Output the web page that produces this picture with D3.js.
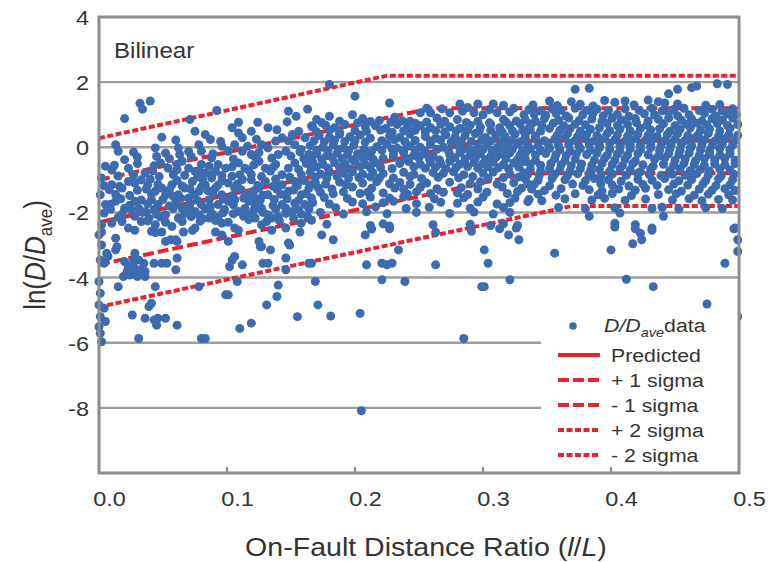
<!DOCTYPE html>
<html><head><meta charset="utf-8">
<script src="https://cdn.jsdelivr.net/npm/d3@7/dist/d3.min.js"></script>
<style>
body{margin:0;background:#fff;}
text{font-family:"Liberation Sans",Arial,Helvetica,sans-serif;fill:#333;}
</style>
</head><body>
<svg id="chart" width="780" height="562"></svg>
<script>
// ---------- data ----------
const xTicks = [0.0, 0.1, 0.2, 0.3, 0.4, 0.5];
const yTicks = [4, 2, 0, -2, -4, -6, -8];
const gridValues = [2, 0, -2, -4, -6, -8];
const panelLabel = "Bilinear";

const lineLabels = ["Predicted", "+ 1 sigma", "- 1 sigma", "+ 2 sigma", "- 2 sigma"];
const lineStartY = [-2.3, -1.0, -3.6, 0.28, -4.9];
const lineBreakX = [0.30, 0.26, 0.335, 0.225, 0.37];
const lineEndY   = [0.2, 1.2, -0.8, 2.2, -1.8];

const pointsNear = [
[0.032,1.35],[0.034,1.17],[0.040,1.42],[0.020,0.88],[0.092,1.13],[0.071,0.85],[0.148,1.11],[0.163,1.17],[0.109,0.77],[0.124,0.77],[0.147,0.78],[0.154,0.95],[0.049,0.31],
[0.075,0.49],[0.083,0.39],[0.087,0.24],[0.104,0.60],[0.109,0.44],[0.112,0.29],[0.119,0.49],[0.132,0.60],[0.139,0.54],[0.143,0.29],[0.151,0.39],[0.156,0.49],[0.161,0.29],[0.166,0.65],
[0.013,0.08],[0.015,-0.12],[0.044,-0.02],[0.045,-0.28],[0.062,-0.02],[0.063,-0.22],[0.078,0.08],[0.080,-0.12],[0.096,0.03],[0.101,-0.12],[0.106,0.08],[0.112,-0.12],[0.116,0.03],[0.119,-0.22],[0.127,0.08],[0.132,-0.02],[0.138,0.19],[0.146,-0.12],[0.153,0.08],[0.158,-0.07],[0.164,-0.22],
[0.005,-0.58],[0.020,-0.38],[0.023,-0.64],[0.036,-0.79],[0.048,-0.48],[0.054,-0.64],[0.058,-0.84],[0.065,-0.43],[0.070,-0.64],[0.075,-0.74],[0.080,-0.53],[0.083,-0.79],[0.088,-0.84],[0.093,-0.53],[0.099,-0.64],[0.104,-0.89],[0.109,-0.48],[0.114,-0.64],[0.119,-0.84],[0.125,-0.43],[0.130,-0.64],[0.138,-0.53],[0.143,-0.84],[0.148,-0.64],[0.153,-0.48],[0.158,-0.84],[0.166,-0.64],
[0.002,-0.94],[0.010,-1.15],[0.018,-1.25],[0.023,-1.05],[0.028,-1.10],[0.044,-1.35],[0.049,-1.25],[0.052,-1.46],[0.057,-1.15],[0.062,-1.46],[0.067,-1.25],[0.073,-1.05],[0.078,-1.35],[0.083,-1.15],[0.088,-0.94],[0.091,-1.25],[0.096,-1.46],[0.101,-1.10],[0.106,-1.25],[0.112,-0.99],[0.117,-1.46],[0.125,-1.25],[0.130,-1.05],[0.132,-1.46],[0.143,-1.15],[0.148,-1.35],[0.153,-1.05],[0.158,-1.46],[0.164,-1.25],
[0.001,-1.46],[0.005,-1.76],[0.013,-1.66],[0.020,-1.87],[0.028,-1.66],[0.036,-1.97],[0.041,-1.61],[0.046,-1.76],[0.052,-2.07],[0.060,-1.66],[0.065,-1.87],[0.070,-1.56],[0.075,-1.97],[0.080,-1.76],[0.086,-1.61],[0.088,-2.02],[0.093,-1.76],[0.101,-1.66],[0.109,-1.97],[0.117,-1.66],[0.122,-1.56],[0.127,-1.87],[0.132,-2.07],[0.143,-1.76],[0.151,-1.97],[0.161,-1.76],[0.166,-1.56],
[0.002,-2.38],[0.010,-2.33],[0.023,-2.48],[0.033,-2.28],[0.044,-2.38],[0.057,-2.43],[0.065,-2.28],[0.075,-2.48],[0.086,-2.17],[0.096,-2.33],[0.106,-2.48],[0.117,-2.22],[0.127,-2.38],[0.135,-2.17],[0.146,-2.48],[0.158,-2.33]
];

const pointsNearFill = [
[0.060,0.22],[0.095,0.18],[0.123,0.25],[0.148,0.2],
[0.030,-0.3],[0.055,-0.35],[0.072,-0.28],[0.088,-0.32],[0.105,-0.36],[0.122,-0.29],[0.135,-0.33],[0.150,-0.27],[0.160,-0.35],
[0.010,-0.7],[0.042,-0.72],[0.061,-0.69],[0.078,-0.71],[0.091,-0.74],[0.117,-0.7],[0.134,-0.73],[0.156,-0.68],
[0.033,-1.0],[0.040,-0.98],[0.061,-1.02],[0.081,-0.99],[0.096,-1.03],[0.119,-1.0],[0.138,-0.97],[0.160,-1.02],
[0.008,-1.3],[0.030,-1.32],[0.037,-1.28],[0.055,-1.31],[0.071,-1.27],[0.085,-1.33],[0.111,-1.3],[0.121,-1.34],[0.139,-1.29],[0.152,-1.31],
[0.017,-1.58],[0.033,-1.62],[0.050,-1.6],[0.064,-1.57],[0.077,-1.63],[0.097,-1.59],[0.106,-1.61],[0.113,-1.56],[0.126,-1.62],[0.137,-1.6],[0.147,-1.58],[0.156,-1.63],
[0.009,-1.9],[0.025,-1.92],[0.031,-1.88],[0.043,-1.91],[0.058,-1.87],[0.069,-1.93],[0.083,-1.89],[0.098,-1.91],[0.114,-1.88],[0.121,-1.92],[0.138,-1.9],[0.146,-1.87],[0.156,-1.92],[0.164,-1.89],
[0.015,-2.15],[0.028,-2.12],[0.039,-2.18],[0.048,-2.14],[0.062,-2.17],[0.072,-2.13],[0.081,-2.19],[0.093,-2.15],[0.113,-2.12],[0.122,-2.17],[0.140,-2.14],[0.152,-2.18],[0.163,-2.13]
];

const pointsNearFill2 = [
[0.027,-0.15],[0.052,-0.18],[0.070,-0.13],[0.089,-0.2],[0.125,-0.16],[0.140,-0.22],[0.157,-0.14],
[0.012,-0.55],[0.030,-0.5],[0.043,-0.57],[0.061,-0.52],[0.086,-0.58],[0.104,-0.6],[0.121,-0.54],[0.136,-0.61],[0.162,-0.5],
[0.015,-0.88],[0.027,-0.85],[0.047,-0.9],[0.067,-0.86],[0.077,-0.91],[0.096,-0.87],[0.110,-0.84],[0.127,-0.9],[0.149,-0.92],
[0.004,-1.18],[0.016,-1.2],[0.038,-1.16],[0.046,-1.14],[0.065,-1.19],[0.080,-1.22],[0.093,-1.16],[0.108,-1.13],[0.124,-1.17],[0.136,-1.2],[0.155,-1.18],[0.165,-1.15],
[0.013,-1.45],[0.024,-1.48],[0.041,-1.44],[0.058,-1.5],[0.074,-1.46],[0.089,-1.43],[0.104,-1.49],[0.128,-1.47],[0.142,-1.44],[0.162,-1.42],
[0.009,-1.75],[0.024,-1.78],[0.038,-1.73],[0.055,-1.8],[0.071,-1.76],[0.087,-1.81],[0.105,-1.77],[0.122,-1.74],[0.136,-1.79],[0.153,-1.72],
[0.004,-2.02],[0.018,-2.05],[0.034,-2.0],[0.045,-2.06],[0.067,-2.03],[0.078,-2.07],[0.097,-2.01],[0.105,-2.04],[0.118,-2.06],[0.128,-2.0],[0.146,-2.03],[0.158,-2.05],
[0.018,-2.28],[0.038,-2.26],[0.052,-2.3],[0.079,-2.27],[0.091,-2.25],[0.101,-2.3],[0.131,-2.28],[0.141,-2.26],[0.166,-2.24]
];

const pointsNearLow = [
[0.002,-2.6],[0.013,-2.79],[0.028,-2.55],[0.041,-2.58],[0.049,-2.6],[0.060,-2.84],[0.052,-2.89],[0.066,-2.6],[0.073,-2.55],[0.091,-2.6],[0.096,-2.69],[0.101,-2.89],[0.109,-2.55],[0.125,-2.89],[0.127,-3.05],[0.135,-2.55],[0.149,-3.0],[0.157,-2.6],
[0.0,-2.69],[0.002,-3.0],[0.001,-3.46],[0.007,-3.35],[0.004,-3.56],[0.006,-3.25],[0.0,-4.12],[0.001,-4.48],[0.0,-4.84],[0.004,-4.94],[0.001,-5.2],[0.005,-5.35],[0.0,-5.51],[0.001,-5.71],[0.002,-5.97],
[0.020,-3.51],[0.023,-3.66],[0.026,-3.87],[0.022,-3.81],[0.028,-3.71],[0.031,-3.92],[0.033,-3.76],[0.036,-3.97],[0.019,-3.97],[0.027,-3.46],[0.035,-3.56],[0.031,-3.46],[0.024,-3.92],[0.030,-3.97],[0.036,-3.81],
[0.013,-3.15],[0.015,-4.28],[0.014,-3.05],[0.028,-3.25],[0.043,-3.56],[0.044,-4.28],[0.049,-3.56],[0.053,-3.56],[0.060,-3.76],[0.061,-3.40],[0.044,-2.62],[0.056,-2.84],[0.061,-2.89],
[0.026,-5.15],[0.031,-5.87],[0.036,-5.25],[0.039,-4.89],[0.041,-4.79],[0.043,-5.30],[0.045,-5.46],[0.046,-5.25],[0.052,-5.25],[0.061,-5.46],
[0.078,-4.28],[0.080,-5.87],[0.083,-5.87],
[0.099,-4.53],[0.101,-4.53],[0.102,-3.66],[0.104,-3.46],[0.106,-3.35],[0.108,-4.12],[0.112,-3.61],
[0.110,-5.56],[0.119,-5.40],[0.131,-4.84],[0.140,-4.23],[0.139,-4.58],[0.128,-3.56],[0.132,-3.56],[0.134,-3.15],[0.126,-3.05],[0.146,-3.76],[0.146,-3.40],[0.155,-5.20],[0.164,-3.56],[0.148,-2.94]
];

const pointsMid = [
[0.180,1.93],[0.200,1.57],[0.227,1.36],[0.282,1.33],[0.296,1.33],[0.308,1.33],[0.316,1.29],
[0.170,0.85],[0.180,0.95],[0.198,1.0],[0.206,0.88],[0.219,0.82],[0.231,0.92],[0.243,0.80],[0.251,1.06],[0.259,1.06],[0.264,0.90],[0.274,1.06],[0.284,1.11],[0.293,1.06],[0.300,1.0],[0.311,1.06],[0.321,1.09],[0.332,1.0],[0.280,0.85],[0.316,0.85],
[0.167,0.62],[0.177,0.68],[0.184,0.6],[0.192,0.7],[0.208,0.63],[0.216,0.66],[0.224,0.58],[0.233,0.7],[0.241,0.62],[0.251,0.66],[0.259,0.6],[0.267,0.71],[0.274,0.63],[0.282,0.58],[0.290,0.68],[0.298,0.62],[0.306,0.7],[0.313,0.6],[0.321,0.66],[0.329,0.72],[0.336,0.6],
[0.172,0.36],[0.180,0.3],[0.188,0.4],[0.196,0.32],[0.204,0.38],[0.212,0.28],[0.227,0.35],[0.235,0.3],[0.243,0.4],[0.255,0.33],[0.263,0.28],[0.271,0.38],[0.278,0.31],[0.286,0.36],[0.294,0.42],[0.302,0.3],[0.310,0.37],[0.317,0.33],[0.325,0.4],[0.333,0.3],
[0.165,0.05],[0.175,0.0],[0.183,0.08],[0.191,-0.02],[0.199,0.06],[0.217,0.02],[0.225,0.1],[0.233,-0.03],[0.243,0.04],[0.251,0.0],[0.259,0.09],[0.269,0.01],[0.280,0.06],[0.288,-0.04],[0.296,0.03],[0.303,0.08],[0.311,-0.01],[0.319,0.05],[0.327,0.1],[0.335,-0.02],
[0.170,-0.2],[0.178,-0.26],[0.186,-0.18],[0.194,-0.24],[0.202,-0.2],[0.209,-0.28],[0.230,-0.22],[0.238,-0.17],[0.246,-0.25],[0.254,-0.2],[0.261,-0.27],[0.274,-0.22],[0.282,-0.16],[0.290,-0.25],[0.298,-0.2],[0.306,-0.28],[0.313,-0.21],[0.321,-0.17],[0.329,-0.24],
[0.167,-0.45],[0.175,-0.52],[0.184,-0.47],[0.192,-0.5],[0.200,-0.44],[0.208,-0.53],[0.216,-0.47],[0.235,-0.5],[0.242,-0.44],[0.251,-0.52],[0.259,-0.46],[0.267,-0.5],[0.274,-0.43],[0.282,-0.52],[0.293,-0.47],[0.300,-0.5],[0.308,-0.45],[0.316,-0.53],[0.324,-0.48],[0.332,-0.44],
[0.165,-0.77],[0.173,-0.82],[0.180,-0.76],[0.191,-0.8],[0.198,-0.75],[0.206,-0.83],[0.214,-0.78],[0.222,-0.81],[0.238,-0.77],[0.246,-0.83],[0.261,-0.78],[0.269,-0.8],[0.277,-0.75],[0.285,-0.84],[0.300,-0.79],[0.308,-0.76],[0.321,-0.82],[0.332,-0.78],
[0.169,-1.08],[0.177,-1.13],[0.188,-1.07],[0.193,-1.15],[0.206,-1.1],[0.217,-1.06],[0.227,-1.12],[0.235,-1.08],[0.243,-1.14],[0.256,-1.1],[0.274,-1.07],[0.290,-1.12],[0.298,-1.06],[0.311,-1.13],[0.324,-1.09],[0.335,-1.12],
[0.173,-1.38],[0.183,-1.43],[0.191,-1.37],[0.204,-1.42],[0.210,-1.38],[0.222,-1.4],[0.241,-1.44],[0.248,-1.37],[0.259,-1.42],[0.269,-1.38],[0.280,-1.4],[0.288,-1.45],[0.303,-1.38],[0.319,-1.42],[0.327,-1.36],
[0.167,-1.7],[0.180,-1.74],[0.198,-1.68],[0.206,-1.73],[0.222,-1.7],[0.230,-1.66],[0.248,-1.73],[0.267,-1.69],[0.280,-1.72],[0.296,-1.68],[0.311,-1.74],[0.321,-1.7],[0.335,-1.67],
[0.173,-2.0],[0.191,-2.05],[0.209,-1.98],[0.225,-2.04],[0.248,-2.0],[0.274,-2.03],[0.293,-1.99],[0.308,-2.05],[0.321,-2.0],
[0.178,-2.36],[0.212,-2.4],[0.222,-2.35],[0.227,-2.42],[0.261,-2.38],[0.290,-2.36],[0.306,-2.4],[0.316,-2.35],[0.327,-2.4]
];

const pointsMidFill = [
[0.256,1.2],[0.268,1.18],[0.288,1.22],[0.305,1.16],[0.324,1.2],
[0.174,0.76],[0.188,0.8],[0.202,0.75],[0.212,0.79],[0.228,0.77],[0.237,0.81],[0.247,0.74],[0.256,0.78],[0.270,0.8],[0.287,0.76],[0.296,0.79],[0.305,0.75],[0.318,0.78],[0.326,0.81],
[0.170,0.48],[0.180,0.52],[0.188,0.47],[0.200,0.51],[0.209,0.49],[0.220,0.53],[0.229,0.46],[0.238,0.5],[0.247,0.52],[0.255,0.48],[0.263,0.51],[0.270,0.47],[0.279,0.5],[0.288,0.53],[0.297,0.49],[0.306,0.52],[0.315,0.47],[0.323,0.5],[0.331,0.52],
[0.168,0.2],[0.176,0.17],[0.184,0.22],[0.192,0.18],[0.200,0.21],[0.208,0.16],[0.221,0.2],[0.231,0.23],[0.239,0.17],[0.247,0.21],[0.259,0.19],[0.267,0.22],[0.275,0.16],[0.283,0.2],[0.291,0.18],[0.299,0.23],[0.306,0.19],[0.314,0.16],[0.322,0.21],[0.330,0.18],
[0.170,-0.08],[0.179,-0.1],[0.187,-0.06],[0.195,-0.11],[0.207,-0.07],[0.213,-0.12],[0.221,-0.09],[0.229,-0.05],[0.238,-0.1],[0.247,-0.08],[0.255,-0.12],[0.264,-0.06],[0.273,-0.1],[0.284,-0.08],[0.292,-0.11],[0.300,-0.07],[0.307,-0.09],[0.315,-0.12],[0.323,-0.06],[0.331,-0.1],
[0.166,-0.33],[0.174,-0.36],[0.182,-0.31],[0.190,-0.35],[0.198,-0.38],[0.206,-0.32],[0.214,-0.36],[0.222,-0.34],[0.230,-0.3],[0.240,-0.37],[0.250,-0.33],[0.258,-0.35],[0.266,-0.39],[0.278,-0.32],[0.286,-0.36],[0.294,-0.34],[0.302,-0.38],[0.310,-0.31],[0.318,-0.35],[0.327,-0.37],
[0.170,-0.6],[0.179,-0.64],[0.188,-0.61],[0.196,-0.66],[0.204,-0.59],[0.212,-0.63],[0.220,-0.62],[0.229,-0.65],[0.246,-0.6],[0.255,-0.64],[0.263,-0.61],[0.271,-0.66],[0.279,-0.62],[0.288,-0.59],[0.296,-0.64],[0.304,-0.6],[0.312,-0.63],[0.320,-0.66],[0.328,-0.61],
[0.169,-0.92],[0.178,-0.95],[0.186,-0.9],[0.195,-0.96],[0.203,-0.93],[0.212,-0.91],[0.219,-0.95],[0.230,-0.94],[0.243,-0.9],[0.252,-0.96],[0.265,-0.92],[0.281,-0.94],[0.292,-0.9],[0.304,-0.95],[0.316,-0.93],[0.328,-0.91],
[0.171,-1.24],[0.182,-1.28],[0.198,-1.22],[0.213,-1.26],[0.231,-1.25],[0.238,-1.29],[0.251,-1.23],[0.264,-1.27],[0.283,-1.24],[0.296,-1.28],[0.315,-1.22],[0.330,-1.26],
[0.176,-1.54],[0.194,-1.57],[0.212,-1.53],[0.227,-1.56],[0.238,-1.52],[0.262,-1.58],[0.285,-1.55],[0.300,-1.53],[0.325,-1.56],
[0.185,-1.86],[0.216,-1.83],[0.240,-1.88],[0.258,-1.84],[0.290,-1.87],[0.316,-1.85]
];

const pointsMidLow = [
[0.174,-2.69],[0.183,-2.84],[0.208,-2.69],[0.213,-2.51],[0.227,-2.5],[0.209,-3.61],[0.221,-3.56],[0.225,-3.61],[0.229,-3.56],[0.234,-3.15],[0.263,-2.61],[0.263,-3.61],[0.291,-2.58],[0.301,-3.15],[0.304,-3.56],[0.313,-2.5],[0.320,-2.69],[0.328,-2.84],[0.326,-2.48],[0.166,-3.56],[0.169,-4.12],[0.221,-4.07],[0.239,-4.12],[0.299,-4.28],[0.301,-4.28],[0.321,-4.07],[0.171,-4.84],[0.181,-5.18],[0.204,-5.10],[0.285,-5.87],[0.205,-8.09]
];

const pointsFar = [
[0.372,1.78],[0.383,1.81],[0.452,1.78],[0.463,1.83],[0.467,1.88],[0.483,1.95],[0.491,1.93],[0.445,1.64],
[0.352,1.42],[0.369,1.4],[0.395,1.44],[0.403,1.38],[0.411,1.42],[0.429,1.45],[0.437,1.4],[0.442,1.36],
[0.336,1.16],[0.345,1.12],[0.354,1.18],[0.361,1.14],[0.372,1.2],[0.381,1.13],[0.389,1.17],[0.398,1.12],[0.411,1.18],[0.422,1.14],[0.432,1.2],[0.440,1.12],[0.449,1.16],[0.457,1.2],[0.469,1.13],[0.479,1.17],[0.487,1.12],[0.495,1.18],
[0.333,0.85],[0.341,0.8],[0.348,0.88],[0.359,0.83],[0.367,0.9],[0.375,0.82],[0.385,0.87],[0.393,0.8],[0.401,0.9],[0.408,0.84],[0.419,0.88],[0.429,0.81],[0.437,0.86],[0.445,0.9],[0.455,0.83],[0.463,0.87],[0.471,0.8],[0.479,0.88],[0.487,0.84],[0.495,0.9],
[0.337,0.54],[0.345,0.5],[0.352,0.58],[0.360,0.52],[0.368,0.57],[0.376,0.49],[0.384,0.55],[0.391,0.6],[0.399,0.51],[0.407,0.56],[0.415,0.5],[0.423,0.58],[0.431,0.53],[0.438,0.57],[0.446,0.49],[0.454,0.55],[0.462,0.6],[0.470,0.52],[0.477,0.56],[0.485,0.5],[0.493,0.58],
[0.333,0.22],[0.341,0.27],[0.348,0.2],[0.356,0.25],[0.364,0.29],[0.372,0.21],[0.380,0.26],[0.387,0.2],[0.395,0.28],[0.403,0.23],[0.411,0.19],[0.419,0.26],[0.427,0.22],[0.434,0.28],[0.442,0.2],[0.450,0.25],[0.458,0.21],[0.466,0.29],[0.473,0.23],[0.481,0.19],[0.489,0.26],[0.497,0.22],
[0.337,-0.05],[0.345,-0.1],[0.352,-0.03],[0.360,-0.08],[0.368,-0.12],[0.376,-0.04],[0.384,-0.09],[0.391,-0.02],[0.399,-0.07],[0.407,-0.11],[0.415,-0.04],[0.423,-0.08],[0.431,-0.01],[0.438,-0.1],[0.446,-0.05],[0.454,-0.09],[0.462,-0.03],[0.470,-0.08],[0.477,-0.12],[0.485,-0.04],[0.493,-0.07],
[0.333,-0.36],[0.341,-0.4],[0.356,-0.35],[0.364,-0.41],[0.372,-0.37],[0.387,-0.39],[0.395,-0.34],[0.403,-0.4],[0.411,-0.36],[0.419,-0.42],[0.434,-0.37],[0.442,-0.33],[0.450,-0.4],[0.458,-0.36],[0.466,-0.41],[0.473,-0.35],[0.481,-0.39],[0.489,-0.34],[0.497,-0.4],
[0.337,-0.67],[0.345,-0.72],[0.352,-0.66],[0.360,-0.7],[0.368,-0.74],[0.376,-0.66],[0.384,-0.71],[0.391,-0.68],[0.399,-0.73],[0.407,-0.66],[0.415,-0.7],[0.423,-0.75],[0.431,-0.67],[0.446,-0.71],[0.454,-0.66],[0.462,-0.72],[0.470,-0.68],[0.477,-0.73],[0.485,-0.67],[0.493,-0.7],
[0.333,-0.97],[0.343,-1.02],[0.354,-0.96],[0.364,-1.0],[0.380,-1.03],[0.387,-0.96],[0.398,-1.0],[0.408,-1.04],[0.421,-0.98],[0.432,-1.01],[0.442,-0.96],[0.453,-1.03],[0.463,-0.99],[0.474,-1.02],[0.484,-0.97],[0.495,-1.0],
[0.338,-1.28],[0.348,-1.33],[0.361,-1.27],[0.383,-1.3],[0.393,-1.34],[0.406,-1.28],[0.419,-1.32],[0.427,-1.26],[0.445,-1.3],[0.455,-1.35],[0.469,-1.28],[0.479,-1.32],[0.489,-1.27],[0.497,-1.33],
[0.336,-1.6],[0.346,-1.64],[0.364,-1.58],[0.385,-1.62],[0.395,-1.57],[0.411,-1.63],[0.427,-1.59],[0.448,-1.62],[0.461,-1.58],[0.471,-1.64],[0.484,-1.6],[0.495,-1.62],
[0.359,-1.85],[0.380,-1.89],[0.403,-1.86],[0.432,-1.88],[0.440,-1.84],[0.453,-1.9],[0.474,-1.86],[0.487,-1.88],
[0.383,-2.12],[0.403,-2.33],[0.407,-2.02],[0.419,-2.38],[0.432,-2.48],[0.441,-2.12],[0.497,-2.48]
];

const pointsFarFill = [
[0.339,1.3],[0.358,1.28],[0.376,1.32],[0.386,1.27],[0.418,1.3],[0.452,1.33],[0.474,1.29],[0.485,1.31],
[0.340,1.02],[0.349,0.98],[0.357,1.04],[0.365,0.96],[0.378,1.0],[0.386,1.05],[0.394,0.97],[0.405,1.01],[0.414,0.95],[0.426,1.03],[0.434,0.99],[0.445,1.06],[0.452,0.97],[0.461,1.0],[0.473,1.04],[0.482,0.96],[0.491,1.02],[0.498,0.99],
[0.338,0.72],[0.346,0.68],[0.355,0.74],[0.363,0.66],[0.372,0.71],[0.380,0.69],[0.397,0.73],[0.405,0.67],[0.413,0.7],[0.420,0.75],[0.428,0.68],[0.441,0.72],[0.450,0.66],[0.459,0.71],[0.467,0.74],[0.475,0.69],[0.483,0.73],[0.491,0.67],[0.499,0.7],
[0.333,0.4],[0.341,0.35],[0.358,0.37],[0.366,0.41],[0.374,0.34],[0.381,0.39],[0.389,0.36],[0.397,0.42],[0.405,0.38],[0.413,0.35],[0.421,0.4],[0.429,0.37],[0.436,0.33],[0.444,0.39],[0.452,0.41],[0.460,0.36],[0.468,0.38],[0.476,0.42],[0.484,0.35],[0.492,0.39],[0.499,0.37],
[0.335,0.08],[0.343,0.05],[0.351,0.11],[0.359,0.06],[0.367,0.09],[0.375,0.04],[0.383,0.1],[0.391,0.07],[0.399,0.12],[0.407,0.05],[0.415,0.09],[0.423,0.06],[0.431,0.1],[0.439,0.04],[0.447,0.08],[0.455,0.11],[0.463,0.06],[0.471,0.09],[0.479,0.05],[0.487,0.1],[0.495,0.07],
[0.333,-0.2],[0.341,-0.24],[0.349,-0.19],[0.357,-0.23],[0.365,-0.26],[0.373,-0.2],[0.381,-0.22],[0.389,-0.18],[0.397,-0.25],[0.405,-0.21],[0.413,-0.24],[0.421,-0.19],[0.429,-0.23],[0.437,-0.27],[0.445,-0.2],[0.453,-0.22],[0.461,-0.18],[0.469,-0.25],[0.477,-0.21],[0.485,-0.24],[0.493,-0.19],
[0.337,-0.52],[0.345,-0.55],[0.353,-0.5],[0.361,-0.54],[0.369,-0.57],[0.377,-0.51],[0.385,-0.55],[0.393,-0.49],[0.401,-0.53],[0.409,-0.56],[0.417,-0.5],[0.425,-0.54],[0.433,-0.58],[0.441,-0.52],[0.449,-0.55],[0.457,-0.5],[0.465,-0.53],[0.473,-0.56],[0.481,-0.51],[0.489,-0.54],[0.497,-0.5],
[0.335,-0.82],[0.344,-0.86],[0.356,-0.83],[0.366,-0.87],[0.374,-0.81],[0.383,-0.85],[0.392,-0.88],[0.401,-0.82],[0.412,-0.86],[0.421,-0.8],[0.430,-0.84],[0.439,-0.87],[0.448,-0.83],[0.458,-0.86],[0.467,-0.81],[0.476,-0.85],[0.486,-0.88],[0.496,-0.83],
[0.340,-1.14],[0.352,-1.18],[0.370,-1.13],[0.378,-1.17],[0.392,-1.12],[0.401,-1.16],[0.414,-1.19],[0.425,-1.14],[0.436,-1.17],[0.449,-1.13],[0.460,-1.16],[0.472,-1.12],[0.482,-1.18],[0.493,-1.15],
[0.343,-1.44],[0.357,-1.47],[0.372,-1.43],[0.390,-1.46],[0.401,-1.42],[0.416,-1.48],[0.437,-1.45],[0.451,-1.43],[0.465,-1.47],[0.476,-1.44],[0.492,-1.46]
];

const pointsFarLow = [
[0.403,-2.45],[0.419,-2.5],[0.423,-2.64],[0.424,-2.84],[0.417,-2.96],[0.432,-2.55],[0.356,-3.25],[0.400,-3.15],[0.496,-2.5],[0.499,-2.84],[0.499,-3.20],[0.489,-3.56],[0.412,-4.05],[0.433,-4.28],[0.475,-4.81],[0.499,-5.20]
];

// ---------- drawing ----------
(function () {
const svg = d3.select("#chart");
const SX = 1.12; // horizontal text stretch of the original figure
const pLeft = 99, pRight = 739, pTop = 17, pBottom = 473;
const x = d3.scaleLinear().domain([0, 0.5]).range([pLeft, pRight]);
const y = d3.scaleLinear().domain([-10, 4]).range([pBottom, pTop]);

const gridColor = "#9d9d9d";
const red = "#e8232b";
const blue = "#3d6bb0";

// grid lines
svg.append("g").selectAll("line").data(gridValues).join("line")
  .attr("x1", pLeft).attr("x2", pRight)
  .attr("y1", d => y(d)).attr("y2", d => y(d))
  .attr("stroke", gridColor).attr("stroke-width", 2.4);

// fit lines
const lineStyles = [
  {dash: null},
  {dash: "11,4"},
  {dash: "11,4"},
  {dash: "6,2.5"},
  {dash: "6,2.5"}
];
const lineGen = d3.line().x(d => x(d[0])).y(d => y(d[1]));
const fitData = lineLabels.map((name, i) => ({
  name,
  pts: [[0, lineStartY[i]], [lineBreakX[i], lineEndY[i]], [0.5, lineEndY[i]]],
  style: lineStyles[i]
}));
svg.append("g").selectAll("path").data(fitData).join("path")
  .attr("d", d => lineGen(d.pts))
  .attr("fill", "none").attr("stroke", red).attr("stroke-width", 4)
  .attr("stroke-dasharray", d => d.style.dash);

// points
const allPoints = [].concat(pointsNear, pointsNearFill, pointsNearFill2, pointsNearLow, pointsMid,
  pointsMidFill, pointsMidLow, pointsFar, pointsFarFill, pointsFarLow);
svg.append("g").selectAll("circle").data(allPoints).join("circle")
  .attr("cx", d => x(d[0])).attr("cy", d => y(d[1]))
  .attr("r", 4.5).attr("fill", blue);

// legend background
const legX = 541, legY = 312;
svg.append("rect").attr("x", legX).attr("y", legY)
  .attr("width", pRight - legX).attr("height", pBottom - legY).attr("fill", "#fff");

// frame
svg.append("rect").attr("x", pLeft).attr("y", pTop)
  .attr("width", pRight - pLeft).attr("height", pBottom - pTop)
  .attr("fill", "none").attr("stroke", "#8c8c8c").attr("stroke-width", 3);

// inner x ticks
svg.append("g").selectAll("line").data(xTicks.slice(1, -1)).join("line")
  .attr("x1", d => x(d)).attr("x2", d => x(d))
  .attr("y1", pBottom).attr("y2", pBottom - 6)
  .attr("stroke", "#8c8c8c").attr("stroke-width", 2);

// x axis labels
const xAxis = svg.append("g").attr("transform", `translate(0,${pBottom})`)
  .call(d3.axisBottom(x).tickValues(xTicks).tickSize(0).tickFormat(d3.format(".1f")));
xAxis.select(".domain").remove();
xAxis.selectAll("text")
  .attr("y", 33).attr("dy", 0).attr("x", 9)
  .attr("transform", `scale(${SX},1)`)
  .style("font-size", "21px").style("fill", "#333");

// y axis labels
const yAxis = svg.append("g").attr("transform", `translate(${pLeft},0)`)
  .call(d3.axisLeft(y).tickValues(yTicks).tickSize(0).tickFormat(d => String(d)));
yAxis.select(".domain").remove();
yAxis.selectAll("text")
  .attr("x", -10 / SX).attr("dy", "0.36em")
  .attr("transform", `scale(${SX},1)`)
  .style("font-size", "21px").style("fill", "#333");

// panel label
svg.append("text").attr("transform", `translate(114,58) scale(${SX},1)`)
  .style("font-size", "21.5px").text(panelLabel);

// axis titles
const xt = svg.append("text").attr("transform", `translate(426,556) scale(${SX},1)`)
  .attr("text-anchor", "middle").style("font-size", "25.5px");
xt.append("tspan").text("On-Fault Distance Ratio (");
xt.append("tspan").style("font-style", "italic").text("l");
xt.append("tspan").text("/");
xt.append("tspan").style("font-style", "italic").text("L");
xt.append("tspan").text(")");

const yt = svg.append("text").attr("transform", `translate(45,255) scale(${SX},1) rotate(-90)`)
  .attr("text-anchor", "middle").style("font-size", "26px");
yt.append("tspan").text("ln(");
yt.append("tspan").style("font-style", "italic").text("D");
yt.append("tspan").text("/");
yt.append("tspan").style("font-style", "italic").text("D");
yt.append("tspan").attr("dy", 6).style("font-size", "17px").text("ave");
yt.append("tspan").attr("dy", -6).text(")");

// legend
const legend = svg.append("g");
legend.append("circle").attr("cx", 573).attr("cy", 326).attr("r", 3.8).attr("fill", blue);
const lt = legend.append("text").attr("transform", `translate(604,332) scale(${SX},1)`)
  .style("font-size", "19px");
lt.append("tspan").style("font-style", "italic").text("D");
lt.append("tspan").style("font-style", "italic").text("/");
lt.append("tspan").style("font-style", "italic").text("D");
lt.append("tspan").attr("dy", 5).style("font-style", "italic").style("font-size", "13px").text("ave");
lt.append("tspan").attr("dy", -5).text("data");

const rowY = [355, 380, 405, 430, 455];
fitData.forEach((d, i) => {
  legend.append("line").attr("x1", 558).attr("x2", 600)
    .attr("y1", rowY[i]).attr("y2", rowY[i])
    .attr("stroke", red).attr("stroke-width", 4)
    .attr("stroke-dasharray", d.style.dash);
  legend.append("text").attr("transform", `translate(611,${rowY[i] + 7}) scale(${SX},1)`)
    .style("font-size", "19px").text(d.name);
});
})();
</script>
</body></html>
